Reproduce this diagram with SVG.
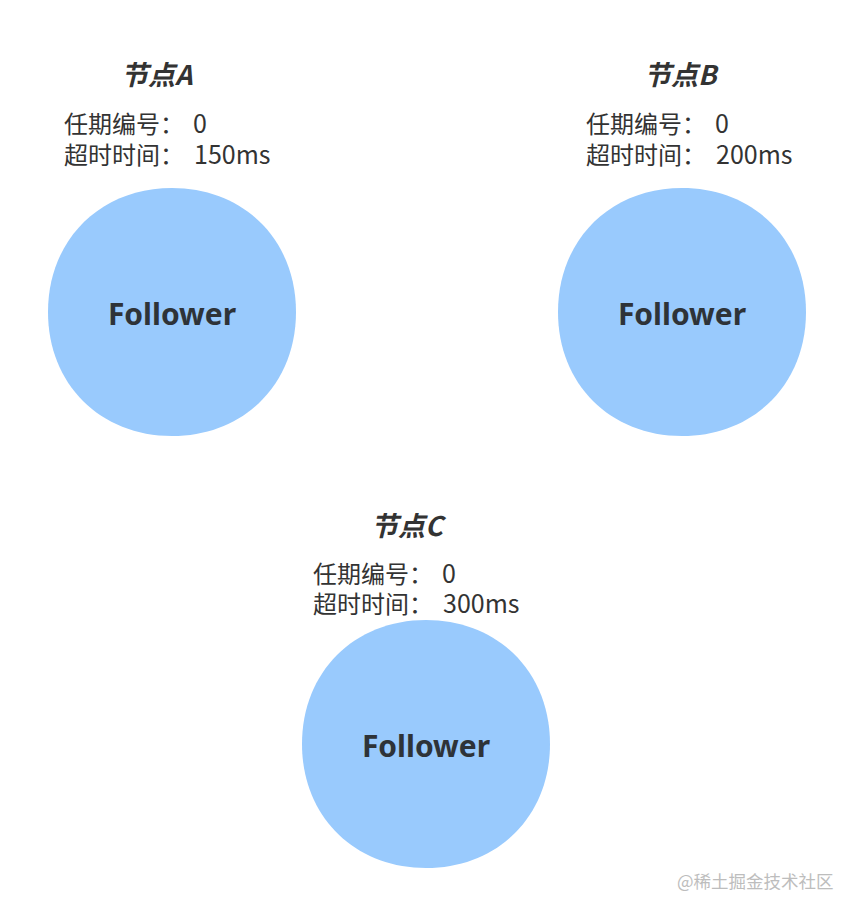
<svg xmlns="http://www.w3.org/2000/svg" xmlns:xlink="http://www.w3.org/1999/xlink" width="862" height="916" viewBox="0 0 862 916">
<style>
.title{font-family:"Noto Sans CJK SC","Noto Sans",sans-serif;font-size:27px;font-weight:bold;font-style:italic;fill:#333}
.info{font-family:"Noto Sans CJK SC","Noto Sans",sans-serif;font-size:24px;fill:#333}
.num{font-size:25px}
.label{font-family:"Noto Sans","Noto Sans CJK SC",sans-serif;font-size:30px;font-weight:bold;fill:#2e3338;text-anchor:middle}
.blob{fill:#99cafd}
.wm{font-family:"Noto Sans CJK SC",sans-serif;font-size:17.5px;fill:#bdbdbd}
</style>
<defs>
<path id="shape" d="M-124,0 C-124,-72 -72,-124 0,-124 C72,-124 124,-72 124,0 C124,72 72,124 0,124 C-72,124 -124,72 -124,0 Z"/>
</defs>
<rect width="862" height="916" fill="#fff"/>
<g id="connectors"/>
<g id="nodeA">
<text class="title" x="121" y="85">节点A</text>
<text class="info" x="64" y="133">任期编号：<tspan class="num" x="193">0</tspan></text>
<text class="info" x="64" y="164">超时时间：<tspan class="num" x="194">150ms</tspan></text>
<use href="#shape" xlink:href="#shape" class="blob" x="172" y="312"/>
<text class="label" x="172" y="325">Follower</text>
</g>
<g id="nodeB">
<text class="title" x="644" y="85">节点B</text>
<text class="info" x="586" y="133">任期编号：<tspan class="num" x="715">0</tspan></text>
<text class="info" x="586" y="164">超时时间：<tspan class="num" x="716">200ms</tspan></text>
<use href="#shape" xlink:href="#shape" class="blob" x="682" y="312"/>
<text class="label" x="682" y="325">Follower</text>
</g>
<g id="nodeC">
<text class="title" x="371" y="536">节点C</text>
<text class="info" x="313" y="583">任期编号：<tspan class="num" x="442">0</tspan></text>
<text class="info" x="313" y="613">超时时间：<tspan class="num" x="443">300ms</tspan></text>
<use href="#shape" xlink:href="#shape" class="blob" x="426" y="744"/>
<text class="label" x="426" y="757">Follower</text>
</g>
<text class="wm" x="677" y="888">@稀土掘金技术社区</text>
</svg>
